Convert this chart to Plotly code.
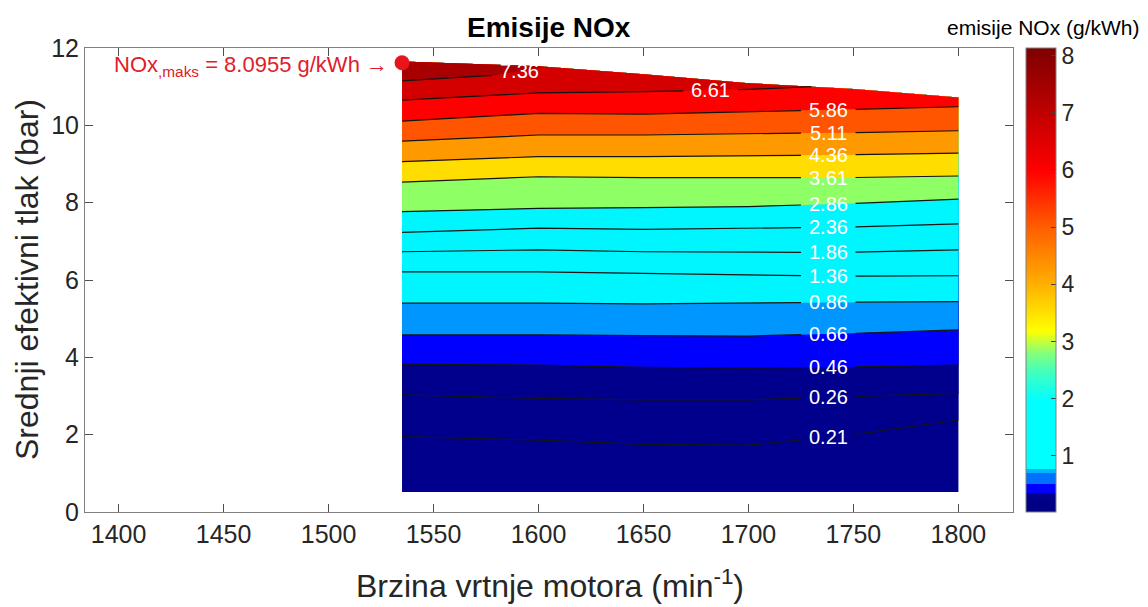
import numpy as np
import plotly.graph_objects as go

FONT = "Liberation Sans, Arial, Helvetica, sans-serif"

# ---------------- data ----------------
speeds = [1535, 1600, 1650, 1700, 1750, 1800]          # engine speed (min^-1)
top_pressure = [11.65, 11.53, 11.32, 11.09, 10.94, 10.72]  # upper edge of measured map (bar)
bottom_pressure = [0.52, 0.52, 0.52, 0.52, 0.52, 0.52]    # lower edge of measured map (bar)

levels = [0.21, 0.26, 0.46, 0.66, 0.86, 1.36, 1.86, 2.36, 2.86,
          3.61, 4.36, 5.11, 5.86, 6.61, 7.36]

# pressure (bar) of each NOx contour line at the speeds above
p_021 = [1.95, 1.86, 1.75, 1.73, 2.00, 2.38]
p_026 = [3.03, 2.94, 2.90, 2.90, 2.99, 3.07]
p_046 = [3.82, 3.80, 3.74, 3.72, 3.75, 3.80]
p_066 = [4.58, 4.58, 4.56, 4.55, 4.62, 4.71]
p_086 = [5.40, 5.40, 5.38, 5.40, 5.43, 5.44]
p_136 = [6.21, 6.21, 6.17, 6.13, 6.10, 6.11]
p_186 = [6.73, 6.78, 6.73, 6.71, 6.72, 6.78]
p_236 = [7.23, 7.34, 7.31, 7.34, 7.37, 7.45]
p_286 = [7.77, 7.85, 7.87, 7.90, 7.98, 8.09]
p_361 = [8.53, 8.67, 8.65, 8.65, 8.65, 8.69]
p_436 = [9.06, 9.19, 9.19, 9.21, 9.24, 9.28]
p_511 = [9.59, 9.75, 9.75, 9.79, 9.81, 9.86]
p_586 = [10.11, 10.31, 10.29, 10.35, 10.41, 10.48]
speed_661 = [1535, 1600, 1650, 1700, 1730]
p_661 = [10.65, 10.84, 10.87, 10.93, 11.00]
speed_736 = [1535, 1580, 1603]
p_736 = [11.15, 11.30, 11.51]

# where the contour labels sit (speed)
label_speed = [1738, 1738, 1738, 1738, 1738, 1738, 1738, 1738, 1738,
               1738, 1738, 1738, 1738, 1682, 1591]

# maximum NOx point
nox_max = 8.0955
nox_max_speed = 1535
nox_max_pressure = 11.62

# colour range of the colour bar
c_min, c_max = 0.02, 8.13
cbar_ticks = [1, 2, 3, 4, 5, 6, 7, 8]

# ---------------- styling ----------------
base_color = "#00008C"
band_colors = ["#00008C", "#00008C", "#0000FF", "#0096FF", "#00F6FF", "#00F6FF",
               "#00F6FF", "#00F6FF", "#8FFF66", "#FFDD00", "#FF9900", "#FF5500",
               "#FF0000", "#D40000", "#A80000"]

line_speeds = [speeds] * 13 + [speed_661, speed_736]
line_press = [p_021, p_026, p_046, p_066, p_086, p_136, p_186, p_236, p_286,
              p_361, p_436, p_511, p_586, p_661, p_736]

# page geometry (the page body adds an 8px offset)
W, H = 1140, 599
PL, PR, PT, PB = 85, 1013, 48, 512      # plot area in window pixels


def region_above(xs, ys):
    """polygon from a contour line up to the top edge of the map"""
    xs = list(xs)
    ys = list(ys)
    end = xs[-1]
    tx = [x for x in speeds if x <= end][::-1]
    ty = [top_pressure[speeds.index(x)] for x in tx]
    return xs + tx, ys + ty


def broken_line(xs, ys, center, half):
    xs_a = np.array(xs, float)
    ys_a = np.array(ys, float)
    lo, hi = center - half, center + half
    ox, oy = [], []
    for x, y in zip(xs, ys):
        if x < lo:
            ox.append(x); oy.append(y)
    if xs[0] < lo < xs[-1]:
        ox.append(lo); oy.append(float(np.interp(lo, xs_a, ys_a)))
    ox.append(None); oy.append(None)
    if hi < xs[-1]:
        ox.append(hi); oy.append(float(np.interp(hi, xs_a, ys_a)))
        for x, y in zip(xs, ys):
            if x > hi:
                ox.append(x); oy.append(y)
    return ox, oy


def px_x(p):
    return (p - PL) / (PR - PL)


def px_y(p):
    return (PB - p) / (PB - PT)


fig = go.Figure()

# base region
bx, by = region_above(speeds, bottom_pressure)
fig.add_trace(go.Scatter(x=bx, y=by, fill="toself", fillcolor=base_color,
                         mode="lines", line=dict(width=0), hoverinfo="skip",
                         showlegend=False))
# bands above every level
for xs, ys, col in zip(line_speeds, line_press, band_colors):
    px, py = region_above(xs, ys)
    fig.add_trace(go.Scatter(x=px, y=py, fill="toself", fillcolor=col,
                             mode="lines", line=dict(width=0), hoverinfo="skip",
                             showlegend=False))

# contour lines with gaps for labels
annotations = []
for lev, xs, ys, lx in zip(levels, line_speeds, line_press, label_speed):
    ox, oy = broken_line(xs, ys, lx, 13)
    fig.add_trace(go.Scatter(x=ox, y=oy, mode="lines",
                             line=dict(color="#141414", width=1.2),
                             hoverinfo="skip", showlegend=False))
    ly = float(np.interp(lx, np.array(xs, float), np.array(ys, float)))
    annotations.append(dict(x=lx, y=ly, xref="x", yref="y", text=f"{lev:.2f}",
                            showarrow=False, xanchor="center", yanchor="middle",
                            font=dict(family=FONT, size=20, color="white")))

# maximum point
fig.add_trace(go.Scatter(x=[nox_max_speed], y=[nox_max_pressure], mode="markers",
                         marker=dict(color="#E8161C", size=15),
                         hoverinfo="skip", showlegend=False))
annotations.append(dict(x=nox_max_speed, y=nox_max_pressure, xref="x", yref="y",
                        text=f"NOx<sub>,maks</sub> = {nox_max:.4f} g/kWh \u2192",
                        showarrow=False, xanchor="right", yanchor="middle",
                        xshift=-12, yshift=-3,
                        font=dict(family=FONT, size=22, color="#E0202A")))

# colour bar (dummy trace)
cscale = [
    [0.00, "#000080"], [0.041, "#00008C"], [0.041, "#0000FF"], [0.060, "#0000FF"],
    [0.060, "#0070FF"], [0.083, "#0070FF"], [0.083, "#00B4FF"], [0.093, "#00B4FF"],
    [0.093, "#00FFFF"], [0.24, "#00FFFF"], [0.30, "#40FFC0"], [0.34, "#80FF80"],
    [0.39, "#FFFF00"], [0.49, "#FFB000"], [0.61, "#FF6000"], [0.735, "#FF0000"],
    [0.86, "#C00000"], [1.00, "#7F0000"]]
fig.add_trace(go.Scatter(x=[None], y=[None], mode="markers",
                         marker=dict(color=[c_min], cmin=c_min, cmax=c_max,
                                     colorscale=cscale, showscale=True, size=0,
                                     colorbar=dict(
                                         x=px_x(1026), xanchor="left", xref="paper",
                                         xpad=0, ypad=0,
                                         y=0.5, yanchor="middle", len=1.0,
                                         lenmode="fraction", thickness=30,
                                         outlinecolor="#808080", outlinewidth=1,
                                         tickvals=cbar_ticks, ticks="inside",
                                         ticklen=5, tickcolor="#404040",
                                         tickfont=dict(family=FONT, size=23,
                                                       color="#262626"))),
                         hoverinfo="skip", showlegend=False))

# titles
annotations.append(dict(x=px_x(549), y=px_y(28), xref="paper", yref="paper",
                        text="<b>Emisije NOx</b>", showarrow=False,
                        xanchor="center", yanchor="middle",
                        font=dict(family=FONT, size=28, color="black")))
annotations.append(dict(x=px_x(1043), y=px_y(28), xref="paper", yref="paper",
                        text="emisije NOx (g/kWh)", showarrow=False,
                        xanchor="center", yanchor="middle",
                        font=dict(family=FONT, size=21, color="black")))
annotations.append(dict(x=px_x(27), y=px_y(280), xref="paper", yref="paper",
                        text="Srednji efektivni tlak (bar)", textangle=-90,
                        showarrow=False, xanchor="center", yanchor="middle",
                        font=dict(family=FONT, size=32, color="#262626")))
annotations.append(dict(x=px_x(550), y=px_y(584), xref="paper", yref="paper",
                        text="Brzina vrtnje motora (min<sup>-1</sup>)",
                        showarrow=False, xanchor="center", yanchor="middle",
                        font=dict(family=FONT, size=32, color="#262626")))

axis_common = dict(showline=True, linecolor="#808080", linewidth=1, mirror="ticks",
                   ticks="inside", ticklen=8, tickcolor="#505050", showgrid=False,
                   zeroline=False, tickfont=dict(family=FONT, size=25, color="#262626"))

fig.update_layout(
    width=W, height=H,
    margin=dict(l=PL - 8, r=W - (PR - 8), t=PT - 8, b=H - (PB - 8)),
    plot_bgcolor="white", paper_bgcolor="white",
    showlegend=False,
    font=dict(family=FONT, color="#262626"),
    xaxis=dict(range=[1384, 1826], tickvals=list(range(1400, 1801, 50)), **axis_common),
    yaxis=dict(range=[0, 12], tickvals=list(range(0, 13, 2)), **axis_common),
    annotations=annotations,
)

fig.write_html("out.html")
